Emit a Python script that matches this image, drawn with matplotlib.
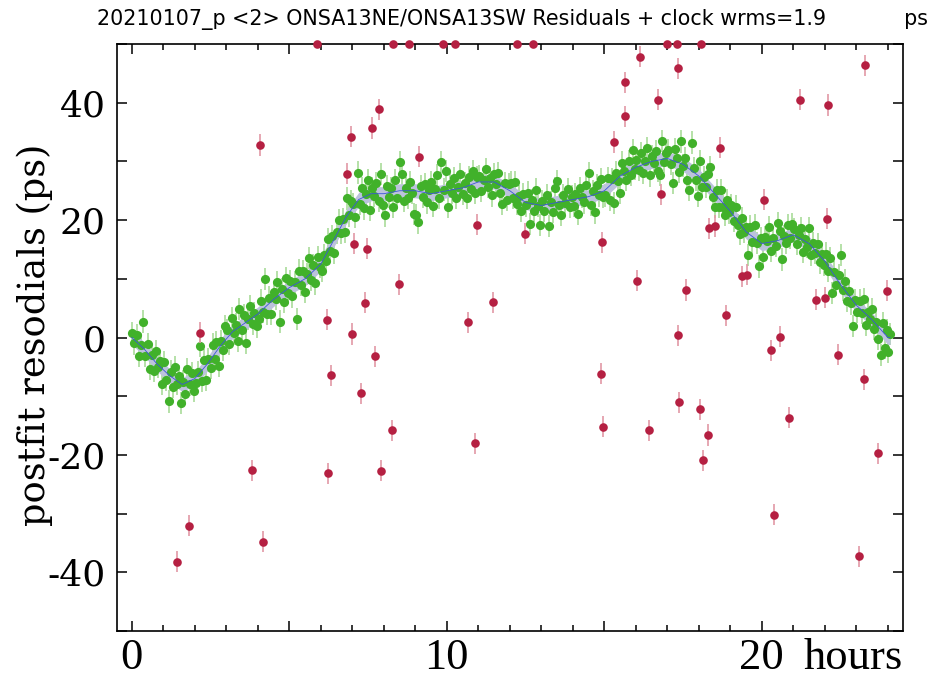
import numpy as np
import matplotlib
matplotlib.use('Agg')
import matplotlib.pyplot as plt
from matplotlib.ticker import MultipleLocator, FuncFormatter

plt.rcParams['axes.unicode_minus'] = False

title = "20210107_p <2> ONSA13NE/ONSA13SW Residuals + clock wrms=1.9            ps"

# clock model (blue curve), hours -> ps
model_t = [0.0, 0.4, 0.8, 1.2, 1.6, 2.0, 2.4, 2.8, 3.2, 3.6, 4.0, 4.5, 5.0, 5.5,
           6.0, 6.4, 6.8, 7.2, 7.6, 8.0, 8.5, 9.0, 9.5, 10.0, 10.5, 11.0, 11.5,
           12.0, 12.5, 13.0, 13.5, 14.0, 14.5, 15.0, 15.5, 16.0, 16.5, 17.0,
           17.5, 18.0, 18.5, 19.0, 19.5, 20.0, 20.5, 21.0, 21.5, 22.0, 22.5,
           23.0, 23.5, 24.0, 24.07]
model_ps = [0.0, -2.0, -4.5, -6.5, -8.0, -7.0, -4.5, -1.5, 1.0, 2.5, 4.0, 6.5,
            8.5, 10.0, 12.5, 16.5, 20.5, 23.5, 24.5, 24.5, 25.0, 25.0, 24.5,
            25.0, 25.5, 26.5, 26.5, 25.0, 23.0, 22.5, 23.0, 23.5, 24.0, 25.0,
            27.5, 29.0, 30.0, 30.5, 29.5, 27.5, 24.5, 21.5, 18.0, 16.0, 16.5,
            17.5, 16.0, 13.0, 9.0, 5.5, 3.0, 0.0, 0.0]
model_sigma = 1.2

# used observations: minute inside each hour (row = hour 0..24) and residual
green_min = [
    [1, 5, 9, 14, 18, 22, 26, 30, 34, 38, 42, 46, 50, 54, 58],
    [2, 6, 10, 14, 18, 22, 26, 29, 34, 38, 42, 46, 50, 54, 58],
    [2, 6, 10, 13, 18, 22, 26, 30, 34, 38, 41, 46, 50, 54, 58],
    [1, 6, 10, 14, 18, 22, 25, 30, 34, 38, 42, 46, 50, 53, 58],
    [2, 6, 10, 14, 17, 22, 26, 30, 34, 37, 42, 46, 50, 54, 58],
    [2, 5, 10, 14, 18, 22, 26, 30, 33, 38, 42, 46, 49, 54, 58],
    [2, 6, 10, 14, 18, 21, 26, 30, 34, 38, 42, 46, 50, 54, 57],
    [1, 6, 10, 14, 18, 22, 26, 29, 34, 38, 42, 45, 50, 54, 58],
    [2, 6, 9, 14, 18, 22, 26, 30, 34, 38, 42, 46, 50, 54, 58],
    [2, 6, 10, 14, 18, 22, 26, 30, 34, 38, 42, 46, 49, 54, 58],
    [2, 6, 10, 14, 17, 22, 26, 30, 34, 38, 42, 46, 50, 54, 58],
    [1, 6, 10, 14, 18, 22, 26, 30, 34, 37, 42, 46, 50, 54, 58],
    [2, 6, 10, 14, 18, 22, 26, 30, 34, 38, 42, 46, 50, 53, 58],
    [2, 6, 10, 14, 18, 22, 26, 30, 34, 38, 42, 46, 50, 54, 58],
    [2, 5, 10, 14, 18, 22, 26, 30, 34, 38, 42, 46, 50, 54, 58],
    [2, 6, 10, 14, 18, 22, 26, 30, 34, 38, 42, 46, 50, 54, 58],
    [1, 6, 10, 14, 18, 22, 26, 30, 34, 38, 42, 46, 50, 54, 58],
    [2, 6, 10, 14, 18, 22, 26, 30, 34, 38, 42, 46, 50, 54, 58],
    [2, 6, 10, 14, 18, 22, 26, 30, 34, 38, 42, 46, 50, 54, 58],
    [2, 6, 10, 14, 18, 22, 26, 30, 34, 38, 42, 46, 50, 54, 58],
    [2, 6, 10, 14, 18, 22, 26, 30, 34, 38, 42, 46, 50, 54, 58],
    [2, 6, 10, 14, 18, 22, 26, 30, 34, 38, 42, 46, 50, 54, 58],
    [2, 6, 10, 14, 18, 22, 26, 30, 34, 38, 42, 46, 50, 54, 58],
    [2, 6, 10, 14, 18, 22, 26, 30, 34, 38, 42, 46, 50, 54, 58],
    [1, 4],
]
green_ps = [
    [0.7, -1.0, 0.4, -3.2, -1.2, 2.7, -3.2, -1.1, -5.3, -3.0, -5.7, -2.3, -5.0, -4.0, -7.9],
    [-4.2, -7.2, -10.9, -5.8, -8.4, -5.1, -7.9, -6.6, -11.1, -7.5, -9.6, -5.4, -8.0, -6.1, -9.1],
    [-7.8, -5.9, -1.4, -7.4, -3.9, -7.2, -3.7, -5.2, -1.2, -3.6, -0.8, -4.8, -0.6, -2.1, 1.9],
    [1.2, -1.1, 3.3, 0.7, 2.2, -0.6, 4.9, 1.2, 3.8, -0.9, 3.1, 5.3, 2.3, 4.2, 1.9],
    [3.2, 6.3, 4.3, 10.0, 4.0, 6.8, 4.0, 7.8, 6.5, 9.4, 2.7, 8.3, 6.1, 10.1, 7.6],
    [9.6, 7.0, 9.5, 3.2, 11.4, 8.9, 11.3, 7.7, 10.8, 13.5, 9.8, 12.3, 9.2, 13.7, 12.0],
    [11.3, 14.1, 13.0, 16.8, 14.7, 17.3, 14.4, 17.9, 20.0, 17.8, 20.2, 18.0, 23.7, 20.8, 23.3],
    [22.7, 20.6, 28.1, 22.8, 25.4, 22.0, 24.4, 26.8, 21.8, 25.4, 24.1, 26.3, 23.3, 27.8, 22.5],
    [20.8, 25.8, 24.0, 25.4, 22.2, 26.8, 23.8, 29.9, 27.9, 23.2, 25.4, 23.8, 26.5, 24.7, 21.0],
    [20.9, 19.6, 25.8, 24.0, 26.1, 23.0, 25.1, 26.5, 22.4, 25.3, 27.7, 23.8, 29.9, 25.2, 28.4],
    [22.2, 26.1, 24.7, 27.1, 23.8, 25.7, 27.9, 24.4, 26.3, 23.8, 27.4, 25.3, 28.4, 24.7, 27.4],
    [27.5, 25.0, 26.9, 28.7, 25.6, 27.1, 24.2, 27.9, 26.1, 28.0, 24.7, 22.7, 26.3, 23.5, 26.1],
    [26.4, 23.8, 26.5, 22.7, 24.1, 21.5, 24.4, 22.5, 24.7, 19.3, 23.4, 21.6, 25.2, 22.4, 19.2],
    [23.3, 21.6, 24.3, 19.0, 23.0, 21.4, 25.4, 26.7, 22.5, 20.9, 24.3, 22.9, 25.3, 22.2, 24.0],
    [22.4, 24.5, 21.1, 25.5, 24.0, 23.0, 26.0, 28.0, 22.6, 24.9, 21.3, 25.9, 24.2, 27.0, 24.0],
    [24.2, 27.1, 23.5, 27.0, 22.9, 28.1, 26.7, 24.6, 29.8, 28.3, 26.8, 30.1, 27.7, 31.9, 28.7],
    [30.3, 28.5, 31.4, 28.0, 30.0, 32.3, 27.6, 30.9, 29.8, 31.8, 28.4, 27.7, 33.5, 29.9, 31.5],
    [32.0, 29.5, 26.3, 32.1, 30.5, 28.2, 33.4, 29.3, 30.5, 26.8, 25.1, 33.2, 28.9, 26.9, 24.1],
    [30.0, 25.7, 27.3, 25.6, 27.9, 29.1, 23.9, 22.3, 25.1, 22.2, 25.1, 22.3, 20.9, 23.4, 21.3],
    [22.5, 19.8, 22.3, 19.1, 17.7, 20.4, 18.0, 18.8, 14.0, 18.9, 16.2, 19.2, 16.1, 12.1, 17.0],
    [13.7, 17.1, 16.4, 18.8, 14.7, 17.0, 15.6, 19.5, 18.2, 13.3, 17.3, 16.1, 19.2, 17.0, 19.3],
    [18.4, 16.0, 17.5, 18.6, 14.6, 16.7, 15.4, 18.7, 14.0, 16.1, 14.4, 15.9, 12.8, 14.2, 12.3],
    [14.3, 11.4, 13.6, 7.6, 11.1, 8.9, 10.6, 14.0, 8.1, 9.7, 6.3, 7.9, 5.8, 2.0, 6.4],
    [4.4, 6.3, 4.2, 6.6, 2.2, 4.4, 3.2, 4.8, 1.4, 2.6, -0.2, -3.0, 2.5, -1.8, 1.3],
    [-2.4, 0.6],
]
green_err = 1.9

# rejected observations (hours, ps)
red_t = [1.44, 1.82, 2.17, 3.82, 4.07, 4.17, 6.19, 6.23, 6.33, 6.83, 6.95, 6.98,
         7.05, 7.28, 7.41, 7.45, 7.62, 7.72, 7.86, 7.92, 8.27, 8.49, 9.13, 10.67,
         10.90, 10.97, 11.48, 12.49, 14.90, 14.93, 14.96, 15.30, 15.67, 15.67,
         16.04, 16.14, 16.43, 16.70, 16.81, 17.33, 17.34, 17.38, 17.59, 18.04,
         18.13, 18.29, 18.33, 18.50, 18.66, 18.86, 19.37, 19.53, 20.08, 20.29,
         20.39, 20.59, 20.87, 21.20, 21.73, 21.99, 22.07, 22.10, 22.41, 23.09,
         23.25, 23.28, 23.69, 23.96]
red_ps = [-38.2, -32.1, 0.8, -22.6, 32.8, -34.8, 3.0, -23.1, -6.4, 27.9, 34.2, 0.6,
          16.0, -9.5, 5.9, 15.1, 35.7, -3.2, 38.9, -22.7, -15.8, 9.1, 30.8, 2.6,
          -18.0, 19.2, 6.0, 17.7, -6.2, 16.2, -15.2, 33.3, 37.7, 43.5,
          9.7, 47.8, -15.8, 40.5, 24.4, 0.4, 45.9, -11.0, 8.1, -12.2,
          -20.9, -16.6, 18.6, 19.0, 32.3, 3.8, 10.4, 10.7, 23.5, -2.2,
          -30.2, 0.1, -13.7, 40.5, 6.4, 6.8, 20.2, 39.6, -2.9, -37.3,
          -7.1, 46.4, -19.7, 8.0]
red_err = 1.8
# rejected points beyond the scale, drawn on the upper frame
red_top_t = [5.87, 8.29, 8.79, 9.87, 10.26, 12.24, 12.72, 17.00, 17.31, 18.06]
red_top_ps = [50.0, 50.0, 50.0, 50.0, 50.0, 50.0, 50.0, 50.0, 50.0, 50.0]

t_green = np.concatenate([h + np.array(m) / 60.0 for h, m in enumerate(green_min)])
v_green = np.concatenate([np.array(v) for v in green_ps])
model_t = np.array(model_t)
model_ps = np.array(model_ps)

GREEN = '#41b12a'
RED = '#b52042'

fig = plt.figure(figsize=(9.28, 6.81), dpi=100)
ax = fig.add_axes([117 / 928, 1 - 631 / 681, 786 / 928, 587 / 681])

ax.errorbar(t_green, v_green, yerr=green_err, fmt='none', ecolor='#a9dc99',
            elinewidth=1.2, zorder=1)
ax.fill_between(model_t, model_ps - model_sigma, model_ps + model_sigma,
                color='#bcc3dc', lw=0, zorder=2)
ax.plot(t_green, v_green, 'o', color=GREEN, ms=6.6, mew=0, zorder=3)
ax.plot(model_t, model_ps, color='#3b54d8', lw=0.6, zorder=4)
ax.errorbar(red_t, red_ps, yerr=red_err, fmt='none', ecolor='#e298a6',
            elinewidth=1.2, zorder=5)
ax.plot(red_t, red_ps, 'o', color=RED, ms=6.2, mew=0, zorder=6)
ax.plot(red_top_t, red_top_ps, 'o', color=RED, ms=6.2, mew=0, zorder=7,
        clip_on=False)

ax.set_xlim(-0.47, 24.48)
ax.set_ylim(-50, 50)

ax.xaxis.set_major_locator(MultipleLocator(5))
ax.xaxis.set_minor_locator(MultipleLocator(1))
ax.xaxis.set_major_formatter(FuncFormatter(
    lambda v, p: '%d' % round(v) if round(v) % 10 == 0 else ''))
ax.yaxis.set_major_locator(MultipleLocator(10))
ax.yaxis.set_major_formatter(FuncFormatter(
    lambda v, p: '%d' % round(v) if round(v) % 20 == 0 else ''))

ax.tick_params(which='both', direction='in', top=True, right=True, width=1.1)
ax.tick_params(axis='x', which='major', length=7, labelsize=32, pad=5,
               labelfontfamily='Liberation Serif')
ax.tick_params(axis='x', which='minor', length=4)
ax.tick_params(axis='y', which='major', length=7, labelsize=26, pad=8,
               labelfontfamily='DejaVu Serif')
for s in ax.spines.values():
    s.set_linewidth(1.2)

ax.text(1.0, -0.012, 'hours', transform=ax.transAxes, ha='right', va='top',
        family='Liberation Serif', size=32)
fig.text(35 / 928, 1 - 335 / 681, 'postfit resodials (ps)', rotation=90,
         ha='center', va='center', family='DejaVu Serif', size=26.5)
fig.text(97 / 928, 1 - 20 / 681, title, ha='left', va='center',
         family='DejaVu Sans', size=14.9)

fig.savefig('out.png', dpi=100)
